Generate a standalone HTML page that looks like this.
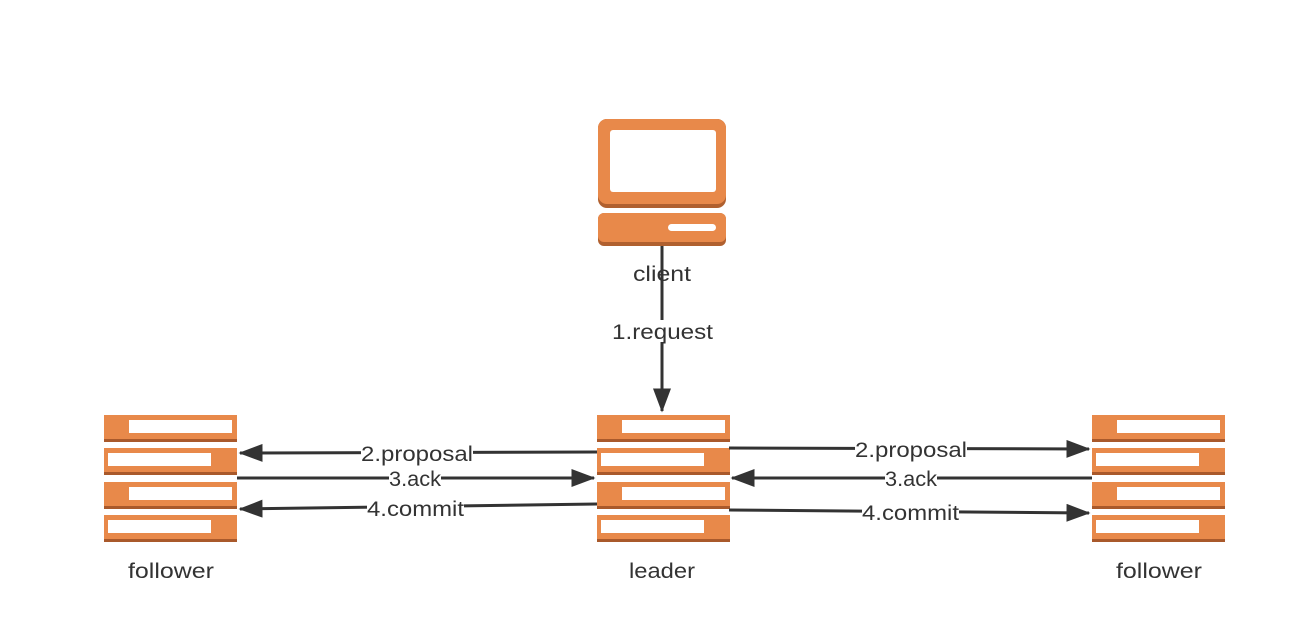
<!DOCTYPE html>
<html><head><meta charset="utf-8"><style>
html,body{margin:0;padding:0;background:#fff;}
svg{display:block;}
text{font-family:"Liberation Sans","Noto Sans CJK SC",sans-serif;font-size:21px;fill:#333;}
</style></head><body>
<svg width="1292" height="642" viewBox="0 0 1292 642" xmlns="http://www.w3.org/2000/svg">
<defs>
<g id="srv">
  <rect x="0" y="0" width="133" height="27" fill="#e8894a"/><rect x="0" y="24" width="133" height="3" fill="#a9592b"/>
  <rect x="25" y="5" width="103" height="13" fill="#fff"/>
  <rect x="0" y="33" width="133" height="27" fill="#e8894a"/><rect x="0" y="57" width="133" height="3" fill="#a9592b"/>
  <rect x="4" y="38" width="103" height="13" fill="#fff"/>
  <rect x="0" y="67" width="133" height="27" fill="#e8894a"/><rect x="0" y="91" width="133" height="3" fill="#a9592b"/>
  <rect x="25" y="72" width="103" height="13" fill="#fff"/>
  <rect x="0" y="100" width="133" height="27" fill="#e8894a"/><rect x="0" y="124" width="133" height="3" fill="#a9592b"/>
  <rect x="4" y="105" width="103" height="13" fill="#fff"/>
</g>
<marker id="ar" markerWidth="8" markerHeight="6" refX="7.5" refY="3" orient="auto" markerUnits="strokeWidth">
  <path d="M0,0 L8,3 L0,6 Z" fill="#333"/>
</marker>
</defs>
<rect x="598" y="119" width="128" height="89" rx="9" fill="#b0602f"/>
<rect x="598" y="119" width="128" height="85" rx="9" fill="#e8894a"/>
<rect x="610" y="130" width="106" height="62" rx="3" fill="#fff"/>
<rect x="598" y="213" width="128" height="33" rx="6" fill="#b0602f"/>
<rect x="598" y="213" width="128" height="29" rx="6" fill="#e8894a"/>
<rect x="668" y="224" width="48" height="7" rx="3.5" fill="#fff"/>
<use href="#srv" x="104" y="415"/>
<use href="#srv" x="597" y="415"/>
<use href="#srv" x="1092" y="415"/>
<g stroke="#333" stroke-width="3" fill="none">
<line x1="662" y1="246" x2="662" y2="411" marker-end="url(#ar)"/>
<line x1="597" y1="452" x2="240" y2="453" marker-end="url(#ar)"/>
<line x1="237" y1="478" x2="594" y2="478" marker-end="url(#ar)"/>
<line x1="597" y1="504" x2="240" y2="509" marker-end="url(#ar)"/>
<line x1="729" y1="448" x2="1089" y2="449" marker-end="url(#ar)"/>
<line x1="1092" y1="478" x2="732" y2="478" marker-end="url(#ar)"/>
<line x1="729" y1="510" x2="1089" y2="513" marker-end="url(#ar)"/>
</g>
<text x="633" y="281" textLength="58" lengthAdjust="spacingAndGlyphs">client</text>
<rect x="612" y="320" width="101" height="22" fill="#fff"/>
<text x="612" y="339" textLength="101" lengthAdjust="spacingAndGlyphs">1.request</text>
<rect x="361" y="443" width="112" height="20" fill="#fff"/>
<text x="361" y="461" textLength="112" lengthAdjust="spacingAndGlyphs">2.proposal</text>
<rect x="389" y="469" width="52" height="18" fill="#fff"/>
<text x="389" y="486" textLength="52" lengthAdjust="spacingAndGlyphs">3.ack</text>
<rect x="367" y="498" width="97" height="20" fill="#fff"/>
<text x="367" y="516" textLength="97" lengthAdjust="spacingAndGlyphs">4.commit</text>
<rect x="855" y="439" width="112" height="20" fill="#fff"/>
<text x="855" y="457" textLength="112" lengthAdjust="spacingAndGlyphs">2.proposal</text>
<rect x="885" y="469" width="52" height="18" fill="#fff"/>
<text x="885" y="486" textLength="52" lengthAdjust="spacingAndGlyphs">3.ack</text>
<rect x="862" y="502" width="97" height="20" fill="#fff"/>
<text x="862" y="520" textLength="97" lengthAdjust="spacingAndGlyphs">4.commit</text>
<text x="128" y="578" textLength="86" lengthAdjust="spacingAndGlyphs">follower</text>
<text x="629" y="578" textLength="66" lengthAdjust="spacingAndGlyphs">leader</text>
<text x="1116" y="578" textLength="86" lengthAdjust="spacingAndGlyphs">follower</text>
</svg>
</body></html>
